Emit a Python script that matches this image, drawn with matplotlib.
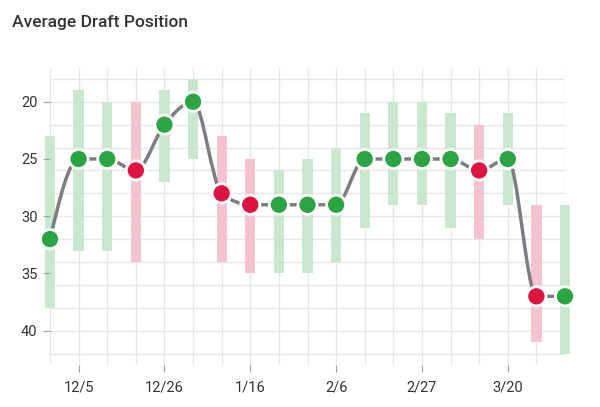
import matplotlib.pyplot as plt
import numpy as np
from matplotlib.path import Path
from matplotlib.patches import PathPatch

plt.rcParams['font.family'] = ['Roboto', 'DejaVu Sans']

# Weekly data
weeks = ['11/28', '12/5', '12/12', '12/19', '12/26', '1/2', '1/9', '1/16', '1/23',
         '1/30', '2/6', '2/13', '2/20', '2/27', '3/6', '3/13', '3/20', '3/27', '4/3']
adp = [32, 25, 25, 26, 22, 20, 28, 29, 29, 29, 29, 25, 25, 25, 25, 26, 25, 37, 37]
low = [23, 19, 20, 20, 19, 18, 23, 25, 26, 25, 24, 21, 20, 20, 21, 22, 21, 29, 29]
high = [38, 33, 33, 34, 27, 25, 34, 35, 35, 35, 34, 31, 29, 29, 31, 32, 29, 41, 42]
rising = [True, True, True, False, True, True, False, False, True, True,
          True, True, True, True, True, False, True, False, True]

GREEN = '#2aa542'
RED = '#dc1442'


def monotone_path(x, y):
    # cubic bezier path with monotone-x tangents (like d3 curveMonotoneX)
    x = np.asarray(x, float)
    y = np.asarray(y, float)
    h = np.diff(x)
    s = np.diff(y) / h
    t = np.zeros(len(x))
    for i in range(1, len(x) - 1):
        p = (s[i - 1] * h[i] + s[i] * h[i - 1]) / (h[i - 1] + h[i])
        t[i] = (np.sign(s[i - 1]) + np.sign(s[i])) * min(abs(s[i - 1]), abs(s[i]), 0.5 * abs(p))
    t[0] = (3 * s[0] - t[1]) / 2
    t[-1] = (3 * s[-1] - t[-2]) / 2
    verts = [(x[0], y[0])]
    codes = [Path.MOVETO]
    for i in range(len(x) - 1):
        d = h[i] / 3
        verts += [(x[i] + d, y[i] + d * t[i]), (x[i + 1] - d, y[i + 1] - d * t[i + 1]),
                  (x[i + 1], y[i + 1])]
        codes += [Path.CURVE4] * 3
    return Path(verts, codes)


fig = plt.figure(figsize=(6, 4.07), dpi=100)
ax = fig.add_axes([50 / 600, 1 - 365 / 407, 515 / 600, 297 / 407])

xs = np.arange(len(weeks))

# grid
ax.hlines(np.arange(18, 43, 2), 0, len(weeks) - 1, color='#e6e6ea', lw=1, zorder=0)
ax.vlines(xs, 17.05, 43, color='#e6e6ea', lw=1, zorder=0)

# range bars
bar_colors = ['#c9e7cd' if r else '#f5c3cf' for r in rising]
ax.bar(xs, np.array(high) - np.array(low), bottom=low, width=0.36,
       color=bar_colors, zorder=1, clip_on=False)

# smooth line
ax.add_patch(PathPatch(monotone_path(xs, adp), fill=False, edgecolor='#7b7d82',
                       lw=2.5, zorder=2, clip_on=False))

# markers
pt_colors = [GREEN if r else RED for r in rising]
ax.scatter(xs, adp, s=190, c=pt_colors, edgecolors='white', linewidths=2,
           zorder=3, clip_on=False)

ax.set_xlim(0, len(weeks) - 1)
ax.set_ylim(43, 17.05)
for sp in ax.spines.values():
    sp.set_visible(False)

ax.set_yticks([20, 25, 30, 35, 40])
ax.set_xticks(xs[1::3])
ax.set_xticklabels(weeks[1::3])
ax.tick_params(axis='y', length=5, color='#a0a0a0', labelsize=10.5,
               labelcolor='#333333', pad=4)
ax.tick_params(axis='x', length=5, color='#a0a0a0', labelsize=10.5,
               labelcolor='#333333', pad=6)

fig.text(12 / 600, 1 - 23 / 407, 'Average Draft Position', fontsize=12.5,
         color='#333333', va='center', ha='left', fontweight='medium')

fig.savefig('out.png', dpi=100)
